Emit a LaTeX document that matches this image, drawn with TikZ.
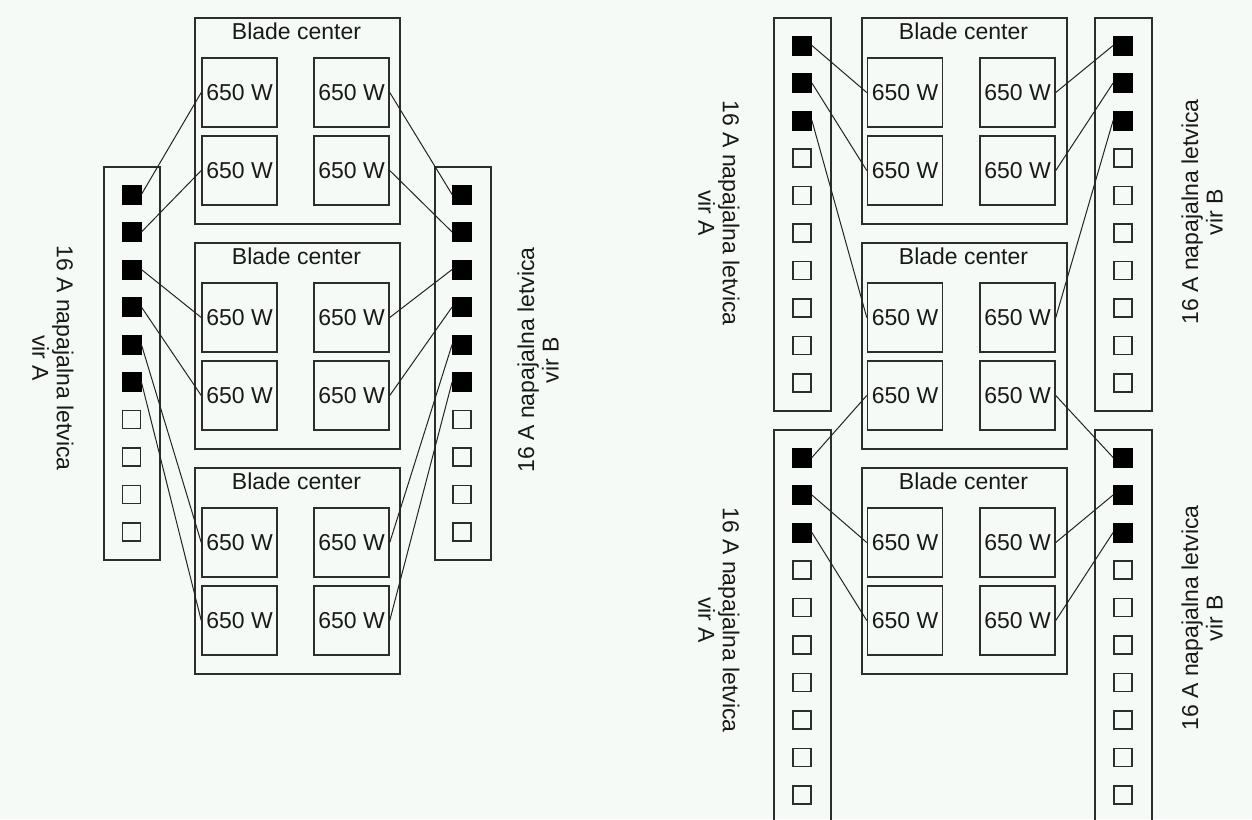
\documentclass[tikz,border=0pt]{standalone}
\usepackage{fontspec}
\setmainfont{Liberation Sans}
\definecolor{bgc}{RGB}{246,250,247}
\definecolor{linec}{RGB}{45,45,45}
\definecolor{wirec}{RGB}{35,35,35}
\begin{document}
\begin{tikzpicture}[x=1pt,y=-1pt,
  box/.style={draw=linec, line width=1.5pt, rectangle, inner sep=0pt, anchor=north west},
  psu/.style={draw=linec, line width=1.5pt, rectangle, inner sep=0pt, minimum width=75pt, minimum height=69pt, font=\fontsize{23}{25}\selectfont, text=black!90},
  title/.style={inner sep=0pt, font=\fontsize{23}{25}\selectfont, text=black!90},
  sqon/.style={draw=black, fill=black, line width=0.8pt, minimum size=19pt, inner sep=0pt},
  sqoff/.style={draw=linec, line width=1.3pt, minimum size=18pt, inner sep=0pt},
  lbl/.style={inner sep=0pt, align=center, font=\fontsize{23}{24.5}\selectfont, text=black!90},
  wire/.style={draw=wirec, line width=1pt}]
\fill[bgc] (0,0) rectangle (1252,819);
\clip (0,0) rectangle (1252,819);

% ---------------- left diagram ----------------
\node[box, minimum width=56pt, minimum height=393pt] (LA) at (103,166) {};
\node[box, minimum width=56pt, minimum height=393pt] (LB) at (434,166) {};
\foreach \k in {1,...,6} {
  \node[sqon] (LA\k) at (131.5,{194.5+37.5*(\k-1)}) {};
  \node[sqon] (LB\k) at (462,{194.5+37.5*(\k-1)}) {};
}
\foreach \k in {7,...,10} {
  \node[sqoff] (LA\k) at (131.5,{194.5+37.5*(\k-1)}) {};
  \node[sqoff] (LB\k) at (462,{194.5+37.5*(\k-1)}) {};
}
\foreach \n/\t in {1/17,2/242,3/467} {
  \node[box, minimum width=205pt, minimum height=206pt] (L\n) at (194,\t) {};
  \node[title] (L\n-t) at (296.5,\t+14) {Blade center};
  \node[psu] (L\n-a) at (239.5,\t+75.5) {650 W};
  \node[psu] (L\n-b) at (351.5,\t+75.5) {650 W};
  \node[psu] (L\n-c) at (239.5,\t+153.5) {650 W};
  \node[psu] (L\n-d) at (351.5,\t+153.5) {650 W};
}
\draw[wire] (LA1.east) -- (L1-a.west);
\draw[wire] (LA2.east) -- (L1-c.west);
\draw[wire] (LA3.east) -- (L2-a.west);
\draw[wire] (LA4.east) -- (L2-c.west);
\draw[wire] (LA5.east) -- (L3-a.west);
\draw[wire] (LA6.east) -- (L3-c.west);
\draw[wire] (L1-b.east) -- (LB1.west);
\draw[wire] (L1-d.east) -- (LB2.west);
\draw[wire] (L2-b.east) -- (LB3.west);
\draw[wire] (L2-d.east) -- (LB4.west);
\draw[wire] (L3-b.east) -- (LB5.west);
\draw[wire] (L3-d.east) -- (LB6.west);
\node[lbl, rotate=-90] (labLA) at (53,358) {16 A napajalna letvica\\vir A};
\node[lbl, rotate=90] (labLB) at (538,360) {16 A napajalna letvica\\vir B};

% ---------------- right diagram ----------------
\node[box, minimum width=57pt, minimum height=393pt] (RA) at (773,17) {};
\node[box, minimum width=57pt, minimum height=393pt] (RB) at (1094,17) {};
\node[box, minimum width=57pt, minimum height=395pt] (RC) at (773,429) {};
\node[box, minimum width=57pt, minimum height=395pt] (RD) at (1094,429) {};
\foreach \k in {1,...,3} {
  \node[sqon] (RA\k) at (802,{45.5+37.5*(\k-1)}) {};
  \node[sqon] (RB\k) at (1123,{45.5+37.5*(\k-1)}) {};
  \node[sqon] (RC\k) at (802,{457.5+37.5*(\k-1)}) {};
  \node[sqon] (RD\k) at (1123,{457.5+37.5*(\k-1)}) {};
}
\foreach \k in {4,...,10} {
  \node[sqoff] (RA\k) at (802,{45.5+37.5*(\k-1)}) {};
  \node[sqoff] (RB\k) at (1123,{45.5+37.5*(\k-1)}) {};
  \node[sqoff] (RC\k) at (802,{457.5+37.5*(\k-1)}) {};
  \node[sqoff] (RD\k) at (1123,{457.5+37.5*(\k-1)}) {};
}
\foreach \n/\t in {1/17,2/242,3/467} {
  \node[box, minimum width=205pt, minimum height=206pt] (R\n) at (861,\t) {};
  \node[title] (R\n-t) at (963.5,\t+14) {Blade center};
  \node[psu] (R\n-a) at (905,\t+75.5) {650 W};
  \node[psu] (R\n-b) at (1017.5,\t+75.5) {650 W};
  \node[psu] (R\n-c) at (905,\t+153.5) {650 W};
  \node[psu] (R\n-d) at (1017.5,\t+153.5) {650 W};
}
\draw[wire] (RA1.east) -- (R1-a.west);
\draw[wire] (RA2.east) -- (R1-c.west);
\draw[wire] (RA3.east) -- (R2-a.west);
\draw[wire] (R1-b.east) -- (RB1.west);
\draw[wire] (R1-d.east) -- (RB2.west);
\draw[wire] (R2-b.east) -- (RB3.west);
\draw[wire] (RC1.east) -- (R2-c.west);
\draw[wire] (RC2.east) -- (R3-a.west);
\draw[wire] (RC3.east) -- (R3-c.west);
\draw[wire] (R2-d.east) -- (RD1.west);
\draw[wire] (R3-b.east) -- (RD2.west);
\draw[wire] (R3-d.east) -- (RD3.west);
\node[lbl, rotate=-90] (labRA) at (719,213) {16 A napajalna letvica\\vir A};
\node[lbl, rotate=90] (labRB) at (1202,212) {16 A napajalna letvica\\vir B};
\node[lbl, rotate=-90] (labRC) at (719,620) {16 A napajalna letvica\\vir A};
\node[lbl, rotate=90] (labRD) at (1202,618) {16 A napajalna letvica\\vir B};
\end{tikzpicture}
\end{document}
